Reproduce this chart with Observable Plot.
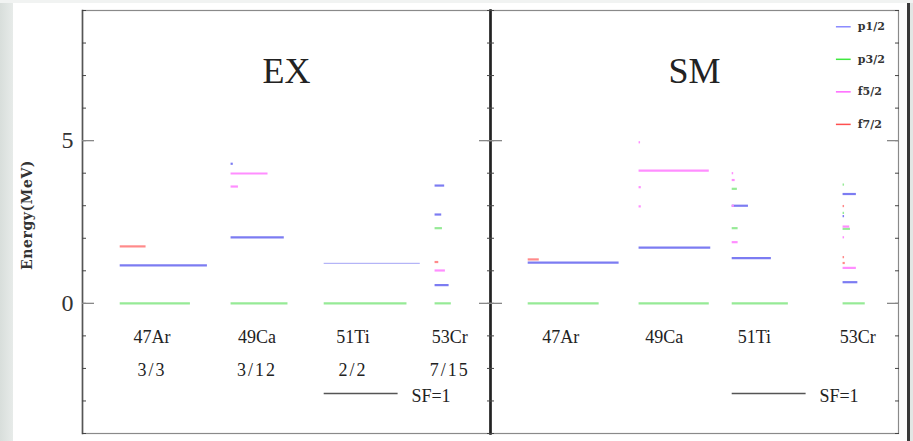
<!DOCTYPE html>
<html><head><meta charset="utf-8">
<script src="https://cdn.jsdelivr.net/npm/d3@7"></script>
<script src="https://cdn.jsdelivr.net/npm/@observablehq/plot@0.6"></script>
<style>
html,body{margin:0;padding:0;background:#fff;}
#chart svg{display:block;}
</style></head><body><div id="chart"></div>
<script>
// ---------- data ----------
const panels = ["EX", "SM"];
const nuclei = ["47Ar", "49Ca", "51Ti", "53Cr"];
const exRatios = ["3/3", "3/12", "2/2", "7/15"];
const orbitals = ["p1/2", "p3/2", "f5/2", "f7/2"];
const yTickLabels = [0, 5];
const sfReference = 1;

// EX: experimental levels (energy in MeV, spectroscopic factor, orbital)
const exNucleus = ["47Ar","47Ar","47Ar",
  "49Ca","49Ca","49Ca","49Ca","49Ca",
  "51Ti","51Ti",
  "53Cr","53Cr","53Cr","53Cr","53Cr","53Cr","53Cr"];
const exEnergy = [0, 1.17, 1.75,
  0, 2.03, 3.99, 3.59, 4.29,
  0, 1.23,
  0, 0.56, 1.01, 1.27, 2.31, 2.73, 3.62];
const exSF = [0.95, 1.18, 0.35,
  0.77, 0.72, 0.50, 0.10, 0.03,
  1.12, 1.30,
  0.22, 0.19, 0.14, 0.05, 0.10, 0.09, 0.13];
const exOrbital = ["p3/2","p1/2","f7/2",
  "p3/2","p1/2","f5/2","f5/2","p1/2",
  "p3/2","p1/2",
  "p3/2","p1/2","f5/2","f7/2","p3/2","p1/2","p1/2"];

// SM: shell-model levels
const smNucleus = ["47Ar","47Ar","47Ar",
  "49Ca","49Ca","49Ca","49Ca","49Ca","49Ca",
  "51Ti","51Ti","51Ti","51Ti","51Ti","51Ti","51Ti","51Ti","51Ti",
  "53Cr","53Cr","53Cr","53Cr","53Cr","53Cr","53Cr","53Cr","53Cr","53Cr","53Cr","53Cr","53Cr"];
const smEnergy = [0, 1.25, 1.35,
  0, 1.71, 4.08, 4.95, 3.57, 2.98,
  0, 1.39, 1.88, 2.31, 3.00, 3.00, 3.52, 3.79, 4.00,
  0, 0.65, 1.09, 1.24, 1.42, 2.03, 2.29, 2.36, 2.68, 2.78, 2.99, 3.36, 3.65];
const smSF = [0.96, 1.23, 0.15,
  0.95, 0.97, 0.95, 0.02, 0.03, 0.03,
  0.76, 0.53, 0.08, 0.08, 0.22, 0.03, 0.07, 0.04, 0.02,
  0.30, 0.20, 0.18, 0.03, 0.02, 0.02, 0.10, 0.09, 0.02, 0.02, 0.02, 0.18, 0.02];
const smOrbital = ["p3/2","p1/2","f7/2",
  "p3/2","p1/2","f5/2","f5/2","f5/2","f5/2",
  "p3/2","p1/2","f5/2","p3/2","p1/2","f5/2","p3/2","f5/2","f5/2",
  "p3/2","p1/2","f5/2","f7/2","f7/2","f5/2","p3/2","f5/2","p1/2","p3/2","f7/2","p1/2","p3/2"];

// ---------- layout / style (not data) ----------
const layout = {
  xMax: 5.52,
  colStart: [0.51, 2.01, 3.27, 4.77],
  labelX: { EX: [0.94, 2.36, 3.66, 4.97], SM: [0.95, 2.35, 3.57, 4.97] },
  nameY: -1.03, ratioY: -2.05,
  refX: 3.27, refY: -2.77, refTextX: 4.45, refTextY: -2.85,
  legendX1: 4.68, legendX2: 4.88, legendTextX: 4.97, legendTop: 8.5
};
const levelColors = ["#7c7cf2", "#96ea96", "#ff8eff", "#ff8a8a"];
const legendColors = ["#8c8cff", "#3fe83f", "#ff66ff", "#ff5050"];
const serif = "'Liberation Serif', serif";

// ---------- build rows ----------
const levels = [];
exNucleus.forEach((n, i) => levels.push({panel: "EX", nucleus: n, E: exEnergy[i], sf: exSF[i], orbital: exOrbital[i]}));
smNucleus.forEach((n, i) => levels.push({panel: "SM", nucleus: n, E: smEnergy[i], sf: smSF[i], orbital: smOrbital[i]}));
const colOf = n => layout.colStart[nuclei.indexOf(n)];
const nameRows = panels.flatMap(p => nuclei.map((n, i) => ({panel: p, nucleus: n, x: layout.labelX[p][i]})));
const ratioRows = exRatios.map((r, i) => ({panel: "EX", ratio: r, x: layout.labelX.EX[i]}));
const legendRows = orbitals.map((o, i) => ({panel: "SM", orbital: o, y: layout.legendTop - i, color: legendColors[i]}));
const minorTicks = d3.range(-4, 10);
const isThin = d => d.panel === "EX" && d.nucleus === "51Ti" && d.orbital === "p1/2";

const plot = Plot.plot({
  width: 913, height: 441,
  marginTop: 10, marginBottom: 8, marginLeft: 81, marginRight: 15,
  style: {fontFamily: serif, background: "transparent", color: "#222"},
  fx: {domain: panels, padding: 0, axis: null},
  x: {domain: [0, layout.xMax], axis: null},
  y: {domain: [-4, 9], axis: null},
  color: {domain: orbitals, range: levelColors},
  marks: [
    Plot.frame({stroke: "#8a8a8a", strokeWidth: 1.2}),
    Plot.frame({anchor: "left", stroke: "#555", strokeWidth: 1.6}),
    Plot.frame({anchor: "left", facetAnchor: "right", stroke: "#222", strokeWidth: 2.6}),
    Plot.axisY({anchor: "left", ticks: minorTicks, tickSize: -4, tickFormat: () => "", label: null, stroke: "#444", facetAnchor: null}),
    Plot.axisY({anchor: "right", ticks: minorTicks, tickSize: -4, tickFormat: () => "", label: null, stroke: "#444", facetAnchor: null}),
    Plot.axisY({anchor: "left", ticks: yTickLabels, tickSize: -12, tickFormat: () => "", label: null, stroke: "#888", strokeWidth: 1.3, facetAnchor: null}),
    Plot.axisY({anchor: "right", ticks: yTickLabels, tickSize: -12, tickFormat: () => "", label: null, stroke: "#888", strokeWidth: 1.3, facetAnchor: null}),
    Plot.axisY({anchor: "left", ticks: yTickLabels, tickSize: 0, tickPadding: 9, label: null, fontSize: 24, fontFamily: serif, fill: "#333"}),
    Plot.ruleY(levels, {
      fx: "panel", y: "E",
      x1: d => colOf(d.nucleus), x2: d => colOf(d.nucleus) + d.sf,
      stroke: "orbital",
      strokeWidth: d => isThin(d) ? 1 : 2.2,
      strokeOpacity: d => isThin(d) ? 0.7 : 1
    }),
    Plot.ruleY([sfReference], {y: () => layout.refY, x1: layout.refX, x2: d => layout.refX + d, stroke: "#555", strokeWidth: 1.5}),
    Plot.text([sfReference], {x: layout.refTextX, y: layout.refTextY, text: d => `SF=${d}`, textAnchor: "start", fontSize: 18, fill: "#222"}),
    Plot.text(panels, {fx: d => d, text: d => d, frameAnchor: "top", dy: 47, fontSize: 36, fill: "#222"}),
    Plot.text(nameRows, {fx: "panel", x: "x", y: layout.nameY, text: "nucleus", fontSize: 18, fill: "#222"}),
    Plot.text(ratioRows, {fx: "panel", x: "x", y: layout.ratioY, text: "ratio", fontSize: 18, fill: "#222"}),
    ...legendRows.map(r => Plot.ruleY([r], {fx: "panel", y: "y", x1: layout.legendX1, x2: layout.legendX2, stroke: r.color, strokeWidth: 1.5})),
    Plot.text(legendRows, {fx: "panel", x: layout.legendTextX, y: "y", text: "orbital", textAnchor: "start", fontSize: 11, fontWeight: "bold", fontFamily: "'DejaVu Serif', serif", fill: "#333"}),
    Plot.text(["Energy(MeV)"], {fx: () => "EX", frameAnchor: "left", textAnchor: "middle", dx: -55, dy: -7, rotate: -90, text: d => d, fontSize: 14, fontWeight: "bold", fontFamily: "'DejaVu Serif', serif", fill: "#333"})
  ]
});

plot.style.background = "linear-gradient(to bottom, #f1f3f2 0px, #f1f3f2 3px, rgba(255,255,255,0) 3px), linear-gradient(to right, #d8dedb 0px, #e7ebe9 13px, #fff 13px, #fff 907px, #3a3a3a 907px, #3a3a3a 910px, #e2e6e4 910px)";
d3.select(plot).selectAll("text").filter(function(){ return this.textContent === "Energy(MeV)"; }).attr("letter-spacing", "0.6px");
d3.select(plot).selectAll("text").filter(function(){ return /^\d+\/\d+$/.test(this.textContent); }).attr("letter-spacing", "2px");
document.getElementById("chart").appendChild(plot);
</script>
</body></html>
